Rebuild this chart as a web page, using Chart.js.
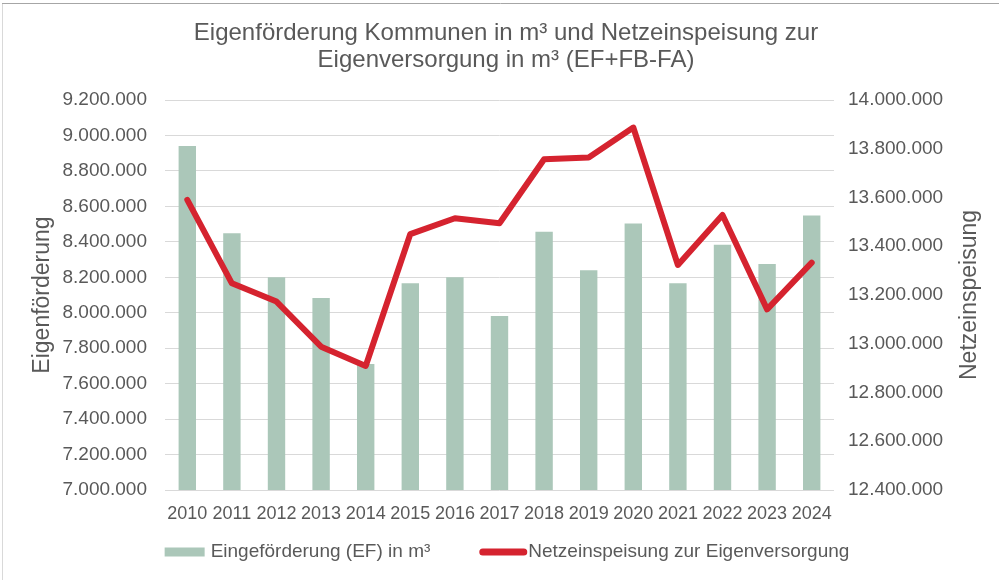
<!DOCTYPE html>
<html>
<head>
<meta charset="utf-8">
<script src="https://cdn.jsdelivr.net/npm/chart.js@4"></script>
<style>
  html, body { margin: 0; padding: 0; background: #fff; }
  #wrap { width: 999px; height: 580px; }
</style>
</head>
<body>
<div id="wrap"><canvas id="chart" width="999" height="580"></canvas></div>
<script>
// data
var years = ["2010", "2011", "2012", "2013", "2014", "2015", "2016", "2017",
             "2018", "2019", "2020", "2021", "2022", "2023", "2024"];
var eigenfoerderung = [8940000, 8448000, 8200000, 8083000, 7711000, 8166000, 8200000, 7982000,
                       8457000, 8239000, 8503000, 8166000, 8384000, 8275000, 8549000];
var netzeinspeisung = [13590000, 13248000, 13173000, 12988000, 12909000, 13450000, 13515000, 13494000,
                       13757000, 13764000, 13887000, 13323000, 13528000, 13141000, 13333000];

var titleLines = ["Eigenförderung Kommunen in m³ und Netzeinspeisung zur",
                  "Eigenversorgung in m³ (EF+FB-FA)"];
var barLabel = "Eingeförderung (EF) in m³";
var lineLabel = "Netzeinspeisung zur Eigenversorgung";
var leftTitle = "Eigenförderung";
var rightTitle = "Netzeinspeisung";

var FONT = "'Liberation Sans', Arial, sans-serif";
var GREY = "#595959";
var BAR = "#abc7b9";
var RED = "#d5232f";

function fmt(v) {
    return String(v).replace(/\B(?=(\d{3})+(?!\d))/g, ".");
}

// frame, right axis title and legend drawn by hand
var extras = {
    id: "extras",
    afterDraw: function (chart) {
        var ctx = chart.ctx;
        ctx.save();

        ctx.lineWidth = 1;
        ctx.strokeStyle = "#a6a6a6";
        ctx.beginPath();
        ctx.moveTo(2, 3.5);
        ctx.lineTo(999, 3.5);
        ctx.stroke();
        ctx.strokeStyle = "#d9d9d9";
        ctx.beginPath();
        ctx.moveTo(2.5, 4);
        ctx.lineTo(2.5, 580);
        ctx.stroke();

        var area = chart.chartArea;
        ctx.fillStyle = GREY;
        ctx.font = "23px " + FONT;
        ctx.textAlign = "center";
        ctx.textBaseline = "middle";
        ctx.translate(970, (area.top + area.bottom) / 2);
        ctx.rotate(-Math.PI / 2);
        ctx.fillText(rightTitle, 0, 0);
        ctx.setTransform(1, 0, 0, 1, 0, 0);

        // legend
        ctx.font = "19px " + FONT;
        ctx.textAlign = "left";
        var w1 = ctx.measureText(barLabel).width;
        var w2 = ctx.measureText(lineLabel).width;
        var total = 40 + 6 + w1 + 49 + 48 + 1 + w2;
        var x = 507 - total / 2;
        var y = 552;
        ctx.fillStyle = BAR;
        ctx.fillRect(x, y - 4.5, 40, 9);
        ctx.fillStyle = GREY;
        ctx.fillText(barLabel, x + 46, y);
        x += 46 + w1 + 49;
        ctx.strokeStyle = RED;
        ctx.lineWidth = 7;
        ctx.lineCap = "round";
        ctx.beginPath();
        ctx.moveTo(x + 3.5, y);
        ctx.lineTo(x + 44.5, y);
        ctx.stroke();
        ctx.fillStyle = GREY;
        ctx.fillText(lineLabel, x + 49, y);

        ctx.restore();
    }
};

new Chart(document.getElementById("chart"), {
    data: {
        labels: years,
        datasets: [
            {
                type: "line",
                label: lineLabel,
                data: netzeinspeisung,
                yAxisID: "y1",
                borderColor: RED,
                backgroundColor: RED,
                borderWidth: 6,
                borderJoinStyle: "round",
                borderCapStyle: "round",
                pointRadius: 0,
                tension: 0,
                order: 0
            },
            {
                type: "bar",
                label: barLabel,
                data: eigenfoerderung,
                yAxisID: "y",
                backgroundColor: BAR,
                categoryPercentage: 1,
                barPercentage: 0.39,
                order: 1
            }
        ]
    },
    options: {
        responsive: false,
        animation: false,
        layout: { padding: { left: 14, right: 1, top: 6, bottom: 0 } },
        plugins: {
            legend: { display: false },
            tooltip: { enabled: false },
            title: {
                display: true,
                text: titleLines,
                color: GREY,
                font: { family: FONT, size: 24, weight: "normal", lineHeight: 1.125 },
                padding: { top: 13.5, bottom: 26.5 }
            }
        },
        scales: {
            x: {
                grid: { display: false },
                border: { display: false },
                ticks: { color: GREY, font: { family: FONT, size: 18 }, padding: 5, maxRotation: 0, autoSkip: false },
                afterFit: function (s) { s.height = 90; }
            },
            y: {
                position: "left",
                min: 7000000,
                max: 9200000,
                grid: { color: "#d9d9d9", lineWidth: 1, drawTicks: false },
                border: { display: false },
                ticks: {
                    stepSize: 200000,
                    color: GREY,
                    font: { family: FONT, size: 19 },
                    padding: 18,
                    callback: function (v) { return fmt(v); }
                },
                title: {
                    display: true,
                    text: leftTitle,
                    color: GREY,
                    font: { family: FONT, size: 23, lineHeight: 1.2 },
                    padding: { top: 15, bottom: 0 }
                },
                afterFit: function (s) { s.width = 151; }
            },
            y1: {
                position: "right",
                min: 12400000,
                max: 14000000,
                grid: { drawOnChartArea: false, drawTicks: false },
                border: { display: false },
                ticks: {
                    stepSize: 200000,
                    color: GREY,
                    font: { family: FONT, size: 19 },
                    padding: 14,
                    callback: function (v) { return fmt(v); }
                },
                afterFit: function (s) { s.width = 164; }
            }
        }
    },
    plugins: [extras]
});
</script>
</body>
</html>
